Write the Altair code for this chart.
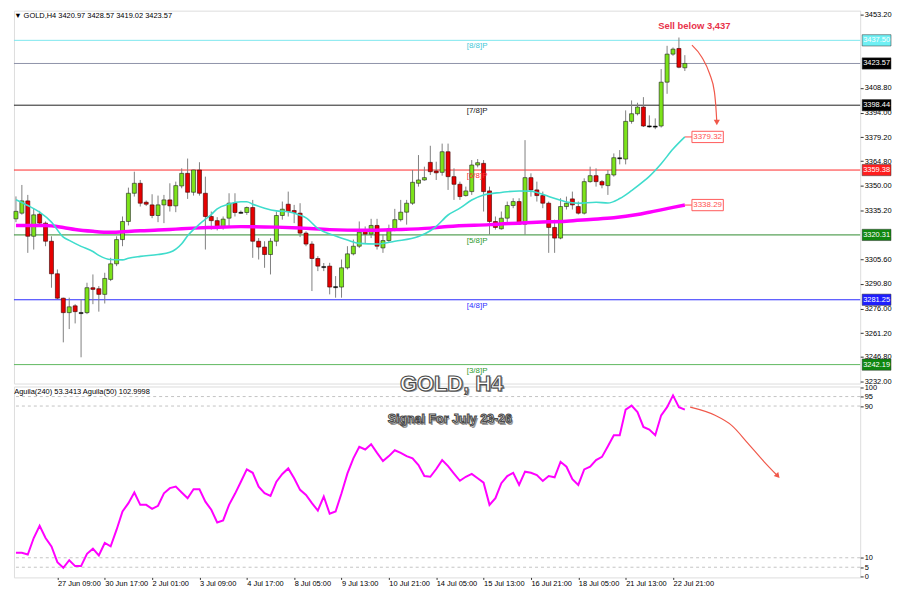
import json
import altair as alt
import pandas as pd

# ---------------- data ----------------
opens = [3330.0, 3333.4, 3340.8, 3319.5, 3332.8, 3327.4, 3316.5, 3296.9, 3282.2, 3273.5,
         3277.6, 3273.6, 3273.5, 3288.5, 3287.9, 3284.5, 3293.5, 3302.9, 3317.5, 3328.4,
         3345.4, 3351.4, 3340.0, 3338.4, 3332.0, 3338.4, 3341.4, 3337.8, 3349.8, 3357.4,
         3346.0, 3359.4, 3345.4, 3331.4, 3328.9, 3325.4, 3330.4, 3339.4, 3334.0, 3333.8,
         3336.8, 3316.5, 3313.0, 3308.5, 3316.5, 3332.0, 3338.8, 3335.0, 3333.4, 3321.4,
         3314.8, 3306.1, 3301.3, 3301.5, 3289.2, 3288.9, 3300.5, 3308.9, 3313.5, 3322.5,
         3320.8, 3326.0, 3312.5, 3316.9, 3324.0, 3329.5, 3334.0, 3339.4, 3351.4, 3353.4,
         3364.0, 3358.8, 3358.0, 3370.4, 3355.4, 3350.8, 3344.0, 3346.4, 3362.4, 3363.4,
         3346.8, 3328.4, 3324.0, 3330.4, 3338.0, 3340.4, 3326.8, 3354.8, 3347.4, 3344.0,
         3339.4, 3324.8, 3318.4, 3337.4, 3342.0, 3337.4, 3333.4, 3352.4, 3356.0, 3352.4,
         3350.0, 3356.4, 3366.4, 3366.0, 3388.7, 3393.3, 3397.3, 3386.0, 3385.9, 3385.9,
         3412.3, 3429.2, 3432.6, 3420.97]
highs = [3343.5, 3350.4, 3344.4, 3336.4, 3334.8, 3328.4, 3319.5, 3299.5, 3282.5, 3282.5,
         3278.6, 3281.6, 3291.5, 3296.5, 3289.5, 3297.5, 3306.5, 3319.5, 3331.4, 3348.8,
         3358.4, 3353.4, 3341.0, 3344.8, 3344.0, 3344.4, 3351.4, 3352.4, 3360.4, 3366.3,
         3359.5, 3364.1, 3355.4, 3334.4, 3331.0, 3331.4, 3345.4, 3345.4, 3335.0, 3337.4,
         3341.4, 3318.4, 3316.5, 3318.4, 3334.4, 3340.4, 3346.4, 3338.4, 3339.4, 3322.5,
         3316.5, 3307.5, 3303.4, 3303.5, 3295.5, 3305.5, 3313.5, 3317.5, 3328.4, 3325.4,
         3330.0, 3330.0, 3320.5, 3326.5, 3336.0, 3341.4, 3341.4, 3359.4, 3368.4, 3361.4,
         3374.0, 3364.4, 3375.3, 3375.3, 3360.4, 3352.4, 3349.4, 3365.4, 3366.0, 3365.4,
         3349.4, 3331.4, 3334.4, 3340.4, 3342.4, 3342.4, 3377.4, 3357.4, 3352.4, 3346.4,
         3340.4, 3329.5, 3342.4, 3343.4, 3346.4, 3340.4, 3354.4, 3361.4, 3360.4, 3353.4,
         3359.4, 3369.4, 3371.4, 3395.3, 3401.3, 3399.9, 3403.3, 3392.3, 3390.5, 3420.2,
         3434.2, 3433.2, 3439.2, 3428.57]
lows = [3328.0, 3332.5, 3309.5, 3311.5, 3326.5, 3313.5, 3288.5, 3281.6, 3255.6, 3263.6,
        3267.0, 3246.6, 3272.6, 3278.6, 3274.1, 3279.0, 3292.5, 3301.5, 3313.5, 3326.0,
        3343.4, 3337.4, 3337.7, 3330.4, 3328.0, 3327.4, 3334.4, 3334.0, 3348.4, 3342.0,
        3344.0, 3344.0, 3311.5, 3323.5, 3323.0, 3323.5, 3325.4, 3331.4, 3333.0, 3332.4,
        3306.5, 3305.5, 3300.5, 3296.5, 3313.5, 3329.5, 3331.4, 3327.4, 3319.0, 3313.5,
        3286.5, 3298.5, 3298.5, 3284.5, 3282.5, 3282.5, 3299.5, 3308.0, 3312.4, 3315.4,
        3318.4, 3311.5, 3309.5, 3315.5, 3322.5, 3328.4, 3326.5, 3338.4, 3349.4, 3353.0,
        3356.4, 3353.4, 3356.0, 3347.4, 3341.4, 3341.4, 3343.4, 3344.4, 3361.0, 3334.4,
        3320.5, 3323.5, 3323.5, 3327.4, 3336.4, 3326.4, 3320.5, 3343.4, 3340.4, 3336.4,
        3309.5, 3309.5, 3317.7, 3335.6, 3335.6, 3332.6, 3332.6, 3351.8, 3349.4, 3348.4,
        3344.4, 3355.4, 3362.8, 3362.8, 3387.3, 3392.3, 3385.3, 3384.9, 3384.0, 3385.0,
        3405.3, 3428.2, 3420.7, 3419.02]
closes = [3334.5, 3340.8, 3319.5, 3332.4, 3327.4, 3316.5, 3296.9, 3282.2, 3273.5, 3277.0,
          3274.1, 3273.2, 3288.5, 3287.5, 3284.5, 3294.1, 3302.9, 3317.5, 3328.4, 3345.4,
          3351.4, 3339.4, 3338.8, 3332.0, 3338.4, 3341.4, 3337.8, 3350.0, 3357.4, 3346.0,
          3359.4, 3345.4, 3331.4, 3328.9, 3325.4, 3329.8, 3339.4, 3333.8, 3333.8, 3336.8,
          3316.5, 3313.0, 3308.5, 3316.5, 3332.0, 3335.8, 3334.4, 3333.8, 3321.4, 3314.8,
          3306.1, 3301.5, 3300.9, 3288.9, 3288.9, 3300.5, 3308.9, 3313.5, 3322.0, 3320.8,
          3326.0, 3313.5, 3316.9, 3324.0, 3329.5, 3334.0, 3339.4, 3352.0, 3353.4, 3354.8,
          3358.4, 3357.7, 3370.4, 3355.4, 3350.8, 3343.4, 3346.8, 3362.4, 3363.8, 3346.4,
          3328.4, 3324.8, 3330.4, 3338.0, 3340.4, 3326.8, 3354.8, 3347.4, 3344.0, 3339.4,
          3324.8, 3318.4, 3337.4, 3339.4, 3338.4, 3333.4, 3352.4, 3356.0, 3352.4, 3350.4,
          3356.8, 3366.8, 3366.8, 3388.7, 3393.3, 3397.3, 3385.9, 3385.9, 3385.5, 3412.3,
          3429.2, 3432.2, 3421.3, 3423.57]
bars = list(range(len(opens)))

fast_bars = [0, 2, 4, 6, 8, 9, 11, 13, 14, 16, 18, 19, 21, 24, 26, 28, 29, 31, 33, 34,
             36, 38, 39, 40, 42, 44, 46, 48, 49, 51, 54, 56, 58, 61, 64, 68, 70, 71, 73, 75,
             77, 79, 82, 85, 87, 88, 90, 92, 93, 95, 98, 100, 102, 104, 106, 107, 109, 111, 113]
fast_vals = [3341.5, 3338.0, 3334.0, 3328.0, 3319.0, 3317.0, 3313.4, 3310.3, 3308.0, 3305.5,
             3305.3, 3306.3, 3307.4, 3308.5, 3309.8, 3315.0, 3319.8, 3326.8, 3332.6, 3336.0,
             3338.9, 3340.3, 3340.3, 3338.8, 3336.4, 3334.8, 3334.3, 3332.1, 3330.6, 3324.2,
             3319.6, 3317.2, 3315.2, 3314.8, 3316.5, 3319.3, 3322.8, 3325.5, 3332.3, 3336.4,
             3341.3, 3344.4, 3345.9, 3346.8, 3346.7, 3345.8, 3343.5, 3341.2, 3340.1, 3339.4,
             3340.0, 3339.5, 3342.2, 3347.0, 3352.5, 3355.6, 3363.2, 3372.0, 3379.32]
slow_bars = [0, 5, 8, 10, 13, 16, 19, 21, 24, 27, 30, 33, 38, 44, 48, 53, 59, 64, 70, 73,
             80, 88, 93, 97, 101, 105, 107, 109, 111, 113]
slow_vals = [3326.0, 3326.0, 3324.8, 3323.6, 3322.5, 3321.9, 3322.4, 3322.8, 3323.2, 3323.8,
             3324.4, 3324.8, 3325.3, 3325.0, 3324.5, 3323.5, 3323.1, 3323.5, 3324.4, 3325.4,
             3326.5, 3328.0, 3328.6, 3329.6, 3330.6, 3332.6, 3334.0, 3335.4, 3336.9, 3338.29]

osc = [12.6, 12.6, 11.7, 20.4, 26.9, 20.4, 16.0, 7.7, 4.7, 8.7,
       5.6, 5.6, 12.1, 14.8, 11.2, 17.8, 16.0, 24.8, 34.4, 38.8,
       44.4, 37.9, 37.9, 35.8, 37.4, 44.0, 46.7, 47.5, 44.4, 41.4,
       46.1, 46.1, 39.6, 35.3, 28.6, 29.7, 37.9, 43.7, 50.1, 56.6,
       54.8, 47.5, 44.0, 42.6, 50.1, 54.2, 57.1, 51.9, 45.8, 43.1,
       38.8, 34.9, 42.3, 33.2, 34.4, 44.0, 54.5, 62.4, 68.5, 67.1,
       69.9, 65.3, 61.0, 63.6, 66.7, 65.3, 63.6, 62.4, 58.9, 53.1,
       52.7, 56.8, 61.5, 58.3, 54.4, 50.6, 52.7, 54.2, 51.9, 49.6,
       37.9, 41.4, 49.3, 53.1, 54.8, 48.4, 55.4, 54.8, 53.6, 50.5,
       53.1, 52.4, 60.6, 58.0, 51.4, 48.4, 56.6, 58.0, 61.5, 63.2,
       68.8, 74.6, 74.6, 88.1, 90.2, 86.8, 79.0, 77.6, 74.6, 85.1,
       89.4, 95.6, 89.4, 88.1]

level_ids = ["8/8", "cur", "7/8", "6/8", "5/8", "4/8", "3/8"]
level_prices = [3437.50, 3423.57, 3398.44, 3359.38, 3320.31, 3281.25, 3242.19]
level_names = ["[8/8]P", "", "[7/8]P", "[6/8]P", "[5/8]P", "[4/8]P", "[3/8]P"]
level_tags = ["3437.50", "3423.57", "3398.44", "3359.38", "3320.31", "3281.25", "3242.19"]

price_ticks = [3453.20, 3408.80, 3394.00, 3379.20, 3364.80, 3350.00, 3335.20,
               3305.60, 3290.80, 3276.00, 3261.20, 3246.80, 3232.00]
osc_ticks = [0, 5, 10, 90, 95, 100]
osc_levels = [95, 90, 10, 5]

time_bars = [7, 15, 23, 31, 39, 47, 55, 63, 71, 79, 87, 95, 103, 111]
time_labels = ["27 Jun 09:00", "30 Jun 17:00", "2 Jul 01:00", "3 Jul 09:00", "4 Jul 17:00",
               "8 Jul 05:00", "9 Jul 13:00", "10 Jul 21:00", "14 Jul 05:00", "15 Jul 13:00",
               "16 Jul 21:00", "18 Jul 05:00", "21 Jul 13:00", "22 Jul 21:00"]

ma_tags = ["3379.32", "3338.29"]
ma_tag_vals = [3379.32, 3338.29]
ma_tag_from = [113, 113]
ma_tag_box = [114.2, 114.2]

arrow1_bars = [114.2, 115.9, 117.2, 118.0, 118.3, 118.4]
arrow1_prices = [3434.6, 3427.2, 3417.2, 3406.3, 3394.3, 3388.0]
arrow2_bars = [113.9, 118.1, 120.9, 123.7, 126.4, 128.7]
arrow2_vals = [89.4, 85.1, 79.8, 70.2, 60.6, 53.1]

header_text = "\u25BC GOLD,H4  3420.97 3428.57 3419.02 3423.57"
osc_header = "Aguila(240) 53.3413  Aguila(50) 102.9998"
sell_text = "Sell below 3,437"
big_title = "GOLD, H4"
sub_title = "Signal For July 23-26"

# ---------------- styles ----------------
FONT = "Liberation Sans"
W, H1, H2 = 851, 375, 192
X_DOM = [-0.336, 142.62]
P_DOM = [3230.8, 3455.4]
O_DOM = [-0.37, 100.3]
line_col = {"8/8": "#7fe8ee", "cur": "#8e92a8", "7/8": "#202020", "6/8": "#ff2a2a",
            "5/8": "#2e8b2e", "4/8": "#2b2bff", "3/8": "#5fb85f"}
name_col = {"8/8": "#45c8d8", "cur": "#000000", "7/8": "#202020", "6/8": "#ff3030",
            "5/8": "#2e9b2e", "4/8": "#3030ff", "3/8": "#2e9b2e"}
box_col = {"8/8": "#6ff0f4", "cur": "#000000", "7/8": "#000000", "6/8": "#ff1e1e",
           "5/8": "#0f870f", "4/8": "#1e1eff", "3/8": "#0f870f"}

xs = alt.Scale(domain=X_DOM, nice=False, zero=False)
ys = alt.Scale(domain=P_DOM, nice=False, zero=False)
os_ = alt.Scale(domain=O_DOM, nice=False, zero=False)

y_axis = alt.Axis(orient="right", values=price_ticks, format=".2f", tickSize=3, labelPadding=1,
                  grid=False, domain=False, labelFlush=False, labelOverlap=False, title=None,
                  labelFontSize=7.5, labelFont=FONT, labelColor="#000", tickColor="#333")
lab_expr = f"{json.dumps(time_labels)}[indexof({json.dumps(time_bars)}, datum.value)]"
xo_axis = alt.Axis(values=time_bars, labelExpr=lab_expr, labelAlign="left", labelFlush=False,
                   labelOverlap=False, grid=False, domain=False, tickSize=2, labelPadding=0,
                   title=None, labelFontSize=7.5, labelFont=FONT, labelColor="#000",
                   tickColor="#333", labelBound=False)
yo_axis = alt.Axis(orient="right", values=osc_ticks, tickSize=3, labelPadding=1, grid=False,
                   domain=False, labelFlush=False, labelOverlap=False, title=None,
                   labelFontSize=7.5, labelFont=FONT, labelColor="#000", tickColor="#333")


def X(f):
    return alt.X(f, type="quantitative", scale=xs, axis=None)


def Y(f):
    return alt.Y(f, type="quantitative", scale=ys, axis=y_axis)


def XO(f):
    return alt.X(f, type="quantitative", scale=xs, axis=xo_axis)


def YO(f):
    return alt.Y(f, type="quantitative", scale=os_, axis=yo_axis)


# ---------------- main panel ----------------
candles = pd.DataFrame({"bar": bars, "o": opens, "h": highs, "l": lows, "c": closes})
cbase = alt.Chart(candles).transform_calculate(
    kind="abs(datum.c - datum.o) < 0.5 ? 'doji' : (datum.c > datum.o ? 'up' : 'down')",
    bt="max(datum.o, datum.c)",
    bb="abs(datum.c - datum.o) < 0.5 ? max(datum.o, datum.c) - 0.7 : min(datum.o, datum.c)",
    x0="datum.bar - 0.34",
    x1="datum.bar + 0.34",
)
layers = []

levels = pd.DataFrame({"id": level_ids, "price": level_prices, "name": level_names, "tag": level_tags})
for lid in level_ids:
    sub = alt.Chart(levels).transform_filter(f"datum.id == '{lid}'")
    layers.append(sub.mark_rule(color=line_col[lid], strokeWidth=1).encode(y=Y("price")))

wicks = cbase.mark_rule(color="#808080", strokeWidth=1).encode(x=X("bar"), y=Y("l"), y2=alt.Y2("h"))
layers.append(wicks)
body_style = {"up": dict(fill="#7ce31a", stroke="#1e1e1e", strokeWidth=0.6),
              "down": dict(fill="#e60000", stroke="#3a0000", strokeWidth=0.6),
              "doji": dict(fill="#000000", stroke="#000000", strokeWidth=0.4)}
for kind, st in body_style.items():
    layers.append(cbase.transform_filter(f"datum.kind == '{kind}'").mark_rect(**st).encode(
        x=X("x0"), x2=alt.X2("x1"), y=Y("bt"), y2=alt.Y2("bb")))

fast = pd.DataFrame({"bar": fast_bars, "v": fast_vals})
slow = pd.DataFrame({"bar": slow_bars, "v": slow_vals})
layers.append(alt.Chart(slow).mark_line(color="#ff00ff", strokeWidth=3.5, interpolate="monotone").encode(
    x=X("bar"), y=Y("v")))
layers.append(alt.Chart(fast).mark_line(color="#3fdccc", strokeWidth=1.6, interpolate="monotone").encode(
    x=X("bar"), y=Y("v")))

# level names
for lid, nm in zip(level_ids, level_names):
    if not nm:
        continue
    sub = alt.Chart(levels).transform_filter(f"datum.id == '{lid}'").transform_calculate(xb="77.9")
    layers.append(sub.mark_text(font=FONT, fontSize=8, color=name_col[lid], dy=6, align="center",
                                baseline="middle").encode(x=X("xb:Q"), y=Y("price"), text="name:N"))

# MA end tags
mat = pd.DataFrame({"tag": ma_tags, "v": ma_tag_vals, "b0": ma_tag_from, "b1": ma_tag_box})
mat_b = alt.Chart(mat).transform_calculate(lo="datum.v - 3.4", hi="datum.v + 3.4",
                                           bx="datum.b1 + 5.3", bc="datum.b1 + 2.65")
layers.append(mat_b.mark_rule(color="#ff4a4a", strokeWidth=1).encode(x=X("b0"), x2=alt.X2("b1"), y=Y("v")))
layers.append(mat_b.mark_rect(fill="#ffffff", stroke="#ff5a5a", strokeWidth=1).encode(
    x=X("b1"), x2=alt.X2("bx"), y=Y("lo"), y2=alt.Y2("hi")))
layers.append(mat_b.mark_text(font=FONT, fontSize=8, color="#ff5050", align="center",
                              baseline="middle").encode(x=X("bc:Q"), y=Y("v"), text="tag:N"))

# axis-side price tags
for lid in level_ids:
    sub = alt.Chart(levels).transform_filter(f"datum.id == '{lid}'").transform_calculate(
        lo="datum.price - 3.4", hi="datum.price + 3.4")
    layers.append(sub.mark_rect(fill=box_col[lid], stroke="#333333", strokeWidth=0.5).encode(
        x=alt.value(W + 2), x2=alt.value(W + 31), y=Y("lo"), y2=alt.Y2("hi")))
    layers.append(sub.mark_text(font=FONT, fontSize=7.5, color="#ffffff", align="center",
                                baseline="middle").encode(x=alt.value(W + 16.5), y=Y("price"), text="tag:N"))

# arrow 1
a1 = pd.DataFrame({"bar": arrow1_bars, "v": arrow1_prices})
layers.append(alt.Chart(a1).mark_line(color="#f0584a", strokeWidth=1.2, interpolate="monotone").encode(
    x=X("bar"), y=Y("v")))
layers.append(alt.Chart(a1.tail(1)).mark_point(shape="triangle-down", filled=True, size=38,
                                               color="#f0584a", opacity=1).encode(x=X("bar"), y=Y("v")))

# texts
sell = pd.DataFrame({"t": [sell_text], "bar": [114.6], "v": [3446.0]})
layers.append(alt.Chart(sell).mark_text(font=FONT, fontSize=9.5, fontWeight="bold", color="#e8334a",
                                        align="center", baseline="middle").encode(
    x=X("bar"), y=Y("v"), text="t:N"))
head = pd.DataFrame({"t": [header_text], "bar": [-0.3], "v": [3452.2]})
layers.append(alt.Chart(head).mark_text(font=FONT, fontSize=7.5, color="#000", align="left",
                                        baseline="middle").encode(x=X("bar"), y=Y("v"), text="t:N"))

main = alt.layer(*layers).properties(width=W, height=H1)

# ---------------- oscillator panel ----------------
olayers = []
od = pd.DataFrame({"bar": bars, "v": osc})
lv = pd.DataFrame({"v": osc_levels})
olayers.append(alt.Chart(lv).mark_rule(color="#c4c4c4", strokeDash=[3, 3], strokeWidth=1).encode(y=YO("v")))
olayers.append(alt.Chart(od).mark_line(color="#ff00ff", strokeWidth=2).encode(x=XO("bar"), y=YO("v")))
a2 = pd.DataFrame({"bar": arrow2_bars, "v": arrow2_vals})
olayers.append(alt.Chart(a2).mark_line(color="#f0584a", strokeWidth=1.2, interpolate="monotone").encode(
    x=XO("bar"), y=YO("v")))
olayers.append(alt.Chart(a2.tail(1)).mark_point(shape="triangle-up", angle=138, filled=True, size=38,
                                                color="#f0584a", opacity=1).encode(x=XO("bar"), y=YO("v")))
oh = pd.DataFrame({"t": [osc_header], "bar": [-0.3], "v": [97.2]})
olayers.append(alt.Chart(oh).mark_text(font=FONT, fontSize=7.5, color="#000", align="left",
                                       baseline="middle").encode(x=XO("bar"), y=YO("v"), text="t:N"))
titles = pd.DataFrame({"t": [big_title, sub_title], "bar": [73.6, 73.3], "v": [101.6, 83.0],
                       "k": ["big", "sub"]})
for k, fs in (("big", 22), ("sub", 12.5)):
    sub = alt.Chart(titles).transform_filter(f"datum.k == '{k}'")
    olayers.append(sub.mark_text(font=FONT, fontSize=fs, fontWeight="bold", color="#9a9a9a", dx=1.5, dy=1.5,
                                 align="center", baseline="middle").encode(x=XO("bar"), y=YO("v"), text="t:N"))
    olayers.append(sub.mark_text(font=FONT, fontSize=fs, fontWeight="bold", fill="#ffffff", stroke="#4a4a4a",
                                 strokeWidth=1.1, align="center", baseline="middle").encode(
        x=XO("bar"), y=YO("v"), text="t:N"))

lower = alt.layer(*olayers).properties(width=W, height=H2)

chart = alt.vconcat(main, lower, spacing=3).properties(
    padding={"left": 0, "top": 0, "right": 0, "bottom": 0}, bounds="flush"
).configure_view(stroke="#3c3c3c", strokeWidth=1).configure(background="#ffffff", padding=0)

chart.save("out.html", embed_options={"renderer": "svg", "actions": False})
